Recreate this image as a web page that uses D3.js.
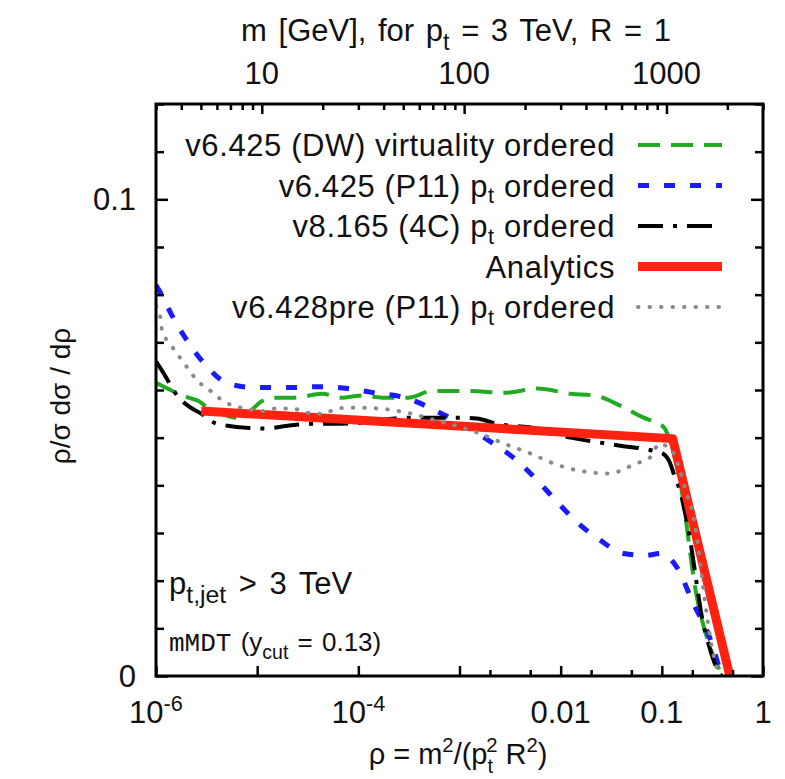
<!DOCTYPE html>
<html>
<head>
<meta charset="utf-8">
<script src="https://cdn.jsdelivr.net/npm/d3@7"></script>
<style>
  body { margin: 0; background: #fff; }
  text { font-family: "Liberation Sans", Arial, Helvetica, sans-serif; fill: #111; }
</style>
</head>
<body>
<div id="chart"></div>
<script>
// data (rho, value)

const rhoDW = [1.0e-6, 1.45e-6, 2.09e-6, 2.63e-6, 3.24e-6, 4.47e-6, 6.0e-6, 8.1e-6, 1.12e-5, 1.5e-5, 2.34e-5, 4.4e-5, 6.9e-5, 1.02e-4, 1.74e-4, 3.1e-4, 5.4e-4, 1.23e-3, 2.8e-3, 5.9e-3, 0.0126, 0.022, 0.039, 0.066, 0.089, 0.107, 0.12, 0.151, 0.22, 0.30, 0.40];
const valDW = [0.0615, 0.0598, 0.0584, 0.0577, 0.0563, 0.0550, 0.0542, 0.0552, 0.0577, 0.0584, 0.0584, 0.0592, 0.0584, 0.0588, 0.0584, 0.0584, 0.0598, 0.0598, 0.0594, 0.0603, 0.0592, 0.0588, 0.0567, 0.0542, 0.0531, 0.0519, 0.0494, 0.0410, 0.0170, 0.0060, 0];

const rhoP11 = [1.0e-6, 1.1e-6, 1.45e-6, 2.04e-6, 3.02e-6, 5.0e-6, 9.5e-6, 2.0e-5, 4.0e-5, 7.9e-5, 1.45e-4, 3.1e-4, 5.9e-4, 1.95e-3, 3.5e-3, 5.9e-3, 9.5e-3, 0.015, 0.0245, 0.042, 0.068, 0.098, 0.141, 0.204, 0.295, 0.39];
const valP11 = [0.0820, 0.0805, 0.0755, 0.0703, 0.0655, 0.0615, 0.0605, 0.0605, 0.0607, 0.0603, 0.0594, 0.0582, 0.0556, 0.0494, 0.0456, 0.0410, 0.0362, 0.0320, 0.0285, 0.0257, 0.0253, 0.0257, 0.0228, 0.0153, 0.0082, 0];

const rho4C = [1.0e-6, 1.23e-6, 1.55e-6, 1.95e-6, 2.82e-6, 3.8e-6, 5.13e-6, 7.6e-6, 1.2e-5, 2.0e-5, 3.5e-5, 5.5e-5, 1.02e-4, 2.3e-4, 3.7e-4, 9.3e-4, 1.48e-3, 2.34e-3, 5.9e-3, 0.0126, 0.024, 0.039, 0.055, 0.081, 0.102, 0.12, 0.135, 0.151, 0.17, 0.186, 0.224, 0.245, 0.295, 0.355, 0.39];
const val4C = [0.0660, 0.0630, 0.0594, 0.0571, 0.0550, 0.0531, 0.0525, 0.0521, 0.0519, 0.0525, 0.0529, 0.0529, 0.0531, 0.0540, 0.0542, 0.0542, 0.0540, 0.0529, 0.0519, 0.0500, 0.0490, 0.0483, 0.0479, 0.0473, 0.0467, 0.0448, 0.0416, 0.0389, 0.0341, 0.0299, 0.0186, 0.0132, 0.0061, 0.0013, 0];

const rhoAn = [2.8e-6, 0.128, 0.47];
const valAn = [0.0556, 0.0498, 0];

const rhoPre = [1.0e-6, 1.1e-6, 1.15e-6, 1.38e-6, 1.74e-6, 2.09e-6, 2.57e-6, 3.24e-6, 4.27e-6, 5.75e-6, 7.9e-6, 1.12e-5, 1.5e-5, 2.2e-5, 3.2e-5, 4.4e-5, 6.2e-5, 8.7e-5, 1.6e-4, 3.1e-4, 5.9e-4, 9.3e-4, 1.62e-3, 2.8e-3, 5.0e-3, 8.5e-3, 0.015, 0.030, 0.056, 0.076, 0.095, 0.129, 0.151, 0.178, 0.2, 0.224, 0.266, 0.316, 0.37];
const valPre = [0.0776, 0.0755, 0.0724, 0.0697, 0.0667, 0.0644, 0.0619, 0.0603, 0.0582, 0.0567, 0.0561, 0.0556, 0.0561, 0.0561, 0.0552, 0.0550, 0.0561, 0.0563, 0.0561, 0.0552, 0.0536, 0.0525, 0.0508, 0.0487, 0.0467, 0.0446, 0.0431, 0.0425, 0.0446, 0.0458, 0.0487, 0.0469, 0.0431, 0.0379, 0.0347, 0.0285, 0.0159, 0.0054, 0];

// tick labels
const bottomLabels = [[1e-6, "10", "-6"], [1e-4, "10", "-4"], [0.01, "0.01", ""], [0.1, "0.1", ""], [1, "1", ""]];
const bottomTicks = [1e-6, 1e-5, 1e-4, 1e-3, 2e-3, 5e-3, 0.01, 0.02, 0.05, 0.1, 0.2, 0.5, 1];
const topLabels = [10, 100, 1000];
const leftLabels = [0, 0.1];

// config

const width = 785;
const height = 779;
const margin = { top: 104, bottom: 103, left: 156, right: 22 };
const fs = 31;

const svg = d3.select("#chart")
  .append("svg")
  .attr("width", width)
  .attr("height", height);

// scales

const xScale = d3.scaleLog()
  .domain([1e-6, 1])
  .range([margin.left, width - margin.right]);

// m = 3000 GeV * sqrt(rho)
const mScale = d3.scaleLog()
  .domain([3, 3000])
  .range([margin.left, width - margin.right]);

const yScale = d3.scaleLinear()
  .domain([0, 0.12])
  .range([height - margin.bottom, margin.top]);

// little helper for sub/superscripts in svg text
function rich(text, parts, size, small, subOff) {
  const k = small || 0.7;
  const sb = subOff || 0.3;
  let cur = 0;
  parts.forEach(p => {
    const off = p[1] === "sub" ? size * sb : p[1] === "sup" ? -size * 0.4 : 0;
    const t = text.append("tspan").text(p[0]).attr("dy", off - cur);
    if (p[1]) t.attr("font-size", size * k);
    if (p[2]) t.attr("dx", p[2]);
    cur = off;
  });
  return text;
}

// series

const series = [
  { label: [["v6.425 (DW) virtuality ordered"]], rho: rhoDW, val: valDW, color: "#22aa22", w: 4, dash: "22 11", cap: "butt" },
  { label: [["v6.425 (P11) p"], ["t", "sub"], [" ordered"]], rho: rhoP11, val: valP11, color: "#1a1aff", w: 5, dash: "11 15", cap: "butt" },
  { label: [["v8.165 (4C) p"], ["t", "sub"], [" ordered"]], rho: rho4C, val: val4C, color: "#000000", w: 4, dash: "25 10 4 10", cap: "butt" },
  { label: [["Analytics"]], rho: rhoAn, val: valAn, color: "#ff2211", w: 9, dash: null, cap: "butt" },
  { label: [["v6.428pre (P11) p"], ["t", "sub"], [" ordered"]], rho: rhoPre, val: valPre, color: "#8a8a8a", w: 4, dash: "0.5 11", cap: "round" }
];

const line = d3.line()
  .x(d => xScale(d[0]))
  .y(d => yScale(d[1]))
  .curve(d3.curveMonotoneX);

const lineStraight = d3.line()
  .x(d => xScale(d[0]))
  .y(d => yScale(d[1]));

svg.append("defs").append("clipPath").attr("id", "plotclip")
  .append("rect")
  .attr("x", margin.left).attr("y", margin.top)
  .attr("width", width - margin.right - margin.left)
  .attr("height", height - margin.bottom - margin.top);

const plot = svg.append("g").attr("clip-path", "url(#plotclip)");

series.forEach(s => {
  const pts = s.rho.map((r, i) => [r, s.val[i]]);
  plot.append("path")
    .attr("d", s.dash === null ? lineStraight(pts) : line(pts))
    .attr("fill", "none")
    .attr("stroke", s.color)
    .attr("stroke-width", s.w)
    .attr("stroke-linejoin", "round")
    .attr("stroke-linecap", s.cap)
    .attr("stroke-dasharray", s.dash);
});

// legend

series.forEach((s, i) => {
  const yy = 145 + i * 40.5;
  rich(svg.append("text")
    .attr("x", 615)
    .attr("y", yy + 11)
    .attr("text-anchor", "end")
    .attr("letter-spacing", 0.6)
    .attr("font-size", 31), s.label, 31, 0.7, 0.22);
  svg.append("line")
    .attr("x1", 638).attr("x2", 722)
    .attr("y1", yy).attr("y2", yy)
    .attr("stroke", s.color)
    .attr("stroke-width", s.w)
    .attr("stroke-linecap", s.cap)
    .attr("stroke-dasharray", s.dash);
});

// axes (ticks point inward, gnuplot style)

const x0 = margin.left, x1 = width - margin.right;
const y0 = height - margin.bottom, y1 = margin.top;

const isDecade = v => Math.abs(Math.log10(v) - Math.round(Math.log10(v))) < 1e-6;

svg.append("g")
  .attr("transform", `translate(0,${y0})`)
  .call(d3.axisBottom(xScale).tickValues(bottomTicks).tickSize(0).tickFormat(""))
  .call(g => g.selectAll(".tick line").attr("y2", d => isDecade(d) ? -10 : -6).attr("stroke", "#000").attr("stroke-width", 2.5))
  .call(g => g.select(".domain").remove());

svg.append("g")
  .attr("transform", `translate(0,${y1})`)
  .call(d3.axisTop(mScale).ticks(20).tickSize(0).tickFormat(""))
  .call(g => g.selectAll(".tick line").attr("y2", d => isDecade(d) ? 10 : 6).attr("stroke", "#000").attr("stroke-width", 2.5))
  .call(g => g.select(".domain").remove());

const yTicks = d3.range(0, 13).map(i => i / 100);

svg.append("g")
  .attr("transform", `translate(${x0},0)`)
  .call(d3.axisLeft(yScale).tickValues(yTicks).tickSize(0).tickFormat(""))
  .call(g => g.selectAll(".tick line").attr("x2", (d, i) => i % 10 === 0 ? 12 : 8).attr("stroke", "#000").attr("stroke-width", 2.5))
  .call(g => g.select(".domain").remove());

svg.append("g")
  .attr("transform", `translate(${x1},0)`)
  .call(d3.axisRight(yScale).tickValues(yTicks).tickSize(0).tickFormat(""))
  .call(g => g.selectAll(".tick line").attr("x2", (d, i) => i % 10 === 0 ? -12 : -8).attr("stroke", "#000").attr("stroke-width", 2.5))
  .call(g => g.select(".domain").remove());

svg.append("rect")
  .attr("x", x0).attr("y", y1)
  .attr("width", x1 - x0).attr("height", y0 - y1)
  .attr("fill", "none")
  .attr("stroke", "#000")
  .attr("stroke-width", 3);

// tick labels

bottomLabels.forEach(d => {
  const parts = d[2] ? [[d[1]], [d[2], "sup"]] : [[d[1]]];
  rich(svg.append("text")
    .attr("x", xScale(d[0]))
    .attr("y", 723)
    .attr("text-anchor", "middle")
    .attr("font-size", fs), parts, fs);
});

topLabels.forEach(m => {
  svg.append("text")
    .attr("x", mScale(m))
    .attr("y", 84)
    .attr("text-anchor", "middle")
    .attr("font-size", fs)
    .text(m);
});

leftLabels.forEach(v => {
  svg.append("text")
    .attr("x", 136)
    .attr("y", yScale(v) + 11)
    .attr("text-anchor", "end")
    .attr("font-size", fs)
    .text(v);
});

// axis titles

rich(svg.append("text")
  .attr("x", 456).attr("y", 41)
  .attr("text-anchor", "middle")
  .attr("word-spacing", 3)
  .attr("font-size", 31), [["m [GeV], for p"], ["t", "sub"], [" = 3 TeV, R = 1"]], 31, 0.75);

rich(svg.append("text")
  .attr("x", 458).attr("y", 764)
  .attr("text-anchor", "middle")
  .attr("font-size", 29),
  [["ρ = m"], ["2", "sup"], ["/(p"], ["t", "sub"], ["2", "sup", -7], [" R"], ["2", "sup"], [")"]], 29);

svg.append("text")
  .attr("transform", "translate(70,396) rotate(-90)")
  .attr("text-anchor", "middle")
  .attr("font-size", 28)
  .text("ρ/σ dσ / dρ");

// annotations

rich(svg.append("text")
  .attr("x", 169).attr("y", 594)
  .attr("word-spacing", 4)
  .attr("font-size", 31), [["p"], ["t,jet", "sub"], [" > 3 TeV"]], 31, 0.8);

const mm = svg.append("text")
  .attr("x", 169).attr("y", 651)
  .attr("word-spacing", 2)
  .attr("font-size", 26);
mm.append("tspan")
  .attr("font-family", "'Liberation Mono', 'Courier New', monospace")
  .attr("font-size", 26)
  .text("mMDT");
rich(mm, [[" (y"], ["cut", "sub"], [" = 0.13)"]], 26, 0.75);
</script>
</body>
</html>
